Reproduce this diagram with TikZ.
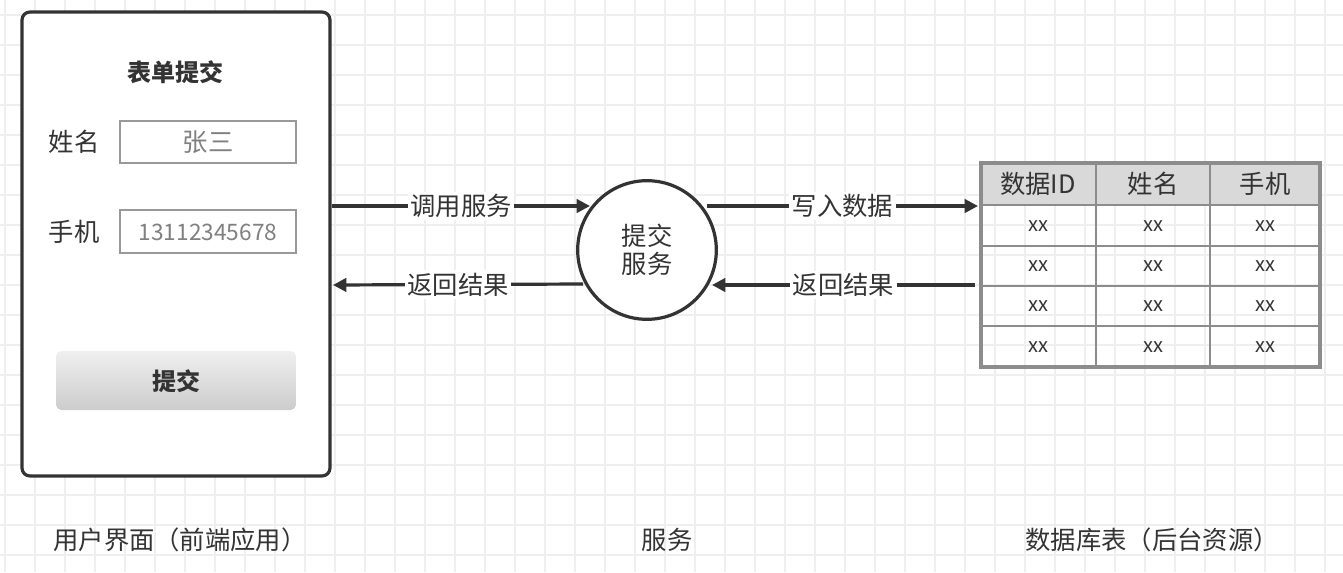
\documentclass[tikz,border=0pt]{standalone}
\usepackage{fontspec}
\setmainfont{Noto Sans CJK SC}
\usetikzlibrary{positioning,arrows.meta}
\definecolor{gridcol}{HTML}{EFEFEF}
\definecolor{darkline}{HTML}{333333}
\tikzset{
	label/.style={font=\fontsize{19}{21}\selectfont, text=darkline},
	field/.style={draw=gray!80, line width=1.2pt},
	flow/.style={line width=2.4pt, draw=darkline, -{Triangle[length=10pt,width=10pt]}},
	flowlabel/.style={label, fill=white, inner sep=2pt},
	cell/.style={font=\fontsize{15}{17}\selectfont, text=darkline}
}
\begin{document}
\begin{tikzpicture}[x=0.75pt,y=-0.75pt]
	\useasboundingbox (0,0) rectangle (1343,572);
	\fill[white] (0,0) rectangle (1343,572);
	% background grid
	\foreach \gx in {5,35,...,1343} \draw[gridcol, line width=0.8pt] (\gx,0) -- (\gx,572);
	\foreach \gy in {15,45,...,572} \draw[gridcol, line width=0.8pt] (0,\gy) -- (1343,\gy);

	% user interface
	\draw[darkline, line width=2.4pt, rounded corners=6pt, fill=white] (22,12) rectangle (330,476);
	\node[label, font=\fontsize{18}{20}\selectfont\bfseries] (title) at (175,72) {表单提交};
	\node[label] (name) at (74,142) {姓名};
	\draw[field] (120,121) rectangle (296,163);
	\node[label, text=gray] (nameval) at (208,142) {张三};
	\node[label] (phone) at (74,232) {手机};
	\draw[field] (120,210) rectangle (296,253);
	\node[label, text=gray, font=\fontsize{17}{19}\selectfont] (phoneval) at (208,232) {13112345678};
	\shade[top color=gray!12, bottom color=gray!40, rounded corners=4pt] (56,351) rectangle (296,410);
	\node[label, font=\fontsize{18}{20}\selectfont\bfseries] (button) at (176,381) {提交};

	% service
	\node[draw=darkline, line width=2.4pt, circle, minimum size=104pt, fill=white, label, align=center] (service) at (647,250) {提交\\服务};

	\coordinate (uiout) at (332,206);
	\coordinate (uiin) at (333,285);
	\coordinate (dbin) at (978,206);
	\coordinate (dbout) at (975,285);
	\draw[flow] (uiout) -- (590,206) node[flowlabel, midway] {调用服务};
	\draw[flow] (583,284) -- (uiin) node[flowlabel, midway] {返回结果};
	\draw[flow] (707,206) -- (dbin) node[flowlabel, midway] {写入数据};
	\draw[flow] (dbout) -- (712,285) node[flowlabel, midway] {返回结果};

	% database table
	\fill[gray!30] (981,163) rectangle (1320,205);
	\foreach \ry in {205,246,286,326} \draw[gray!90, line width=1.4pt] (981,\ry) -- (1320,\ry);
	\foreach \cx in {1096,1210} \draw[gray!90, line width=1.4pt] (\cx,163) -- (\cx,367);
	\draw[gray!90, line width=2.6pt] (981,163) rectangle (1320,367);
	\node[label] (colid) at (1038,184) {数据ID};
	\node[label] (colname) at (1153,184) {姓名};
	\node[label] (colphone) at (1265,184) {手机};
	\foreach \ry in {226,266,306,347}
		\foreach \cx in {1038,1153,1265}
			\node[cell] at (\cx,\ry) {xx};

	% captions
	\node[label] (capui) at (180,540) {用户界面（前端应用）};
	\node[label] (capsvc) at (667,540) {服务};
	\node[label] (capdb) at (1152,540) {数据库表（后台资源）};
\end{tikzpicture}
\end{document}
